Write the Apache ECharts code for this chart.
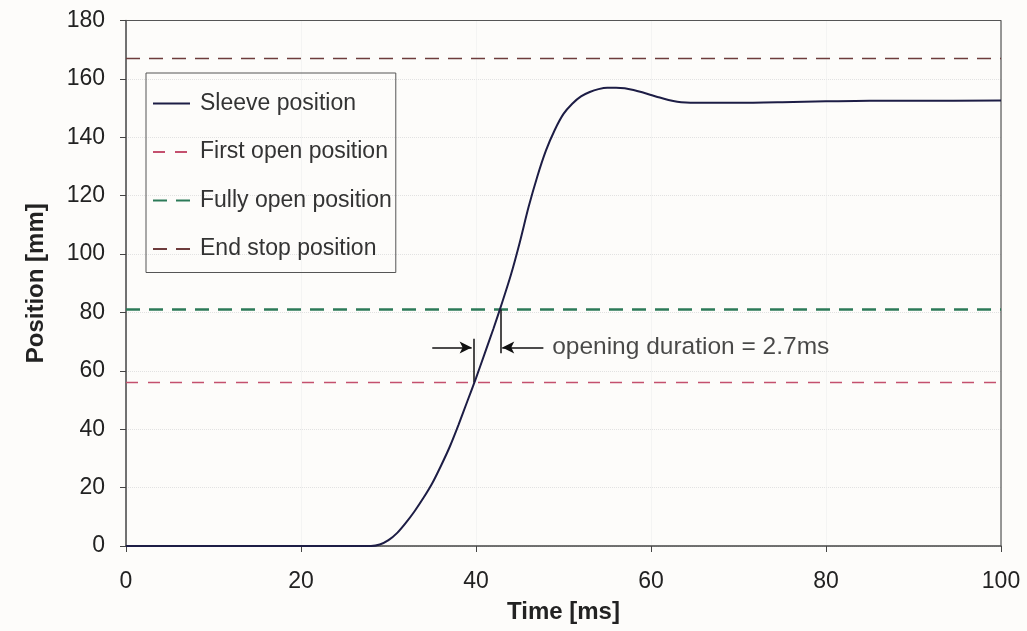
<!DOCTYPE html>
<html>
<head>
<meta charset="utf-8">
<script src="https://cdn.jsdelivr.net/npm/echarts@6/dist/echarts.min.js"></script>
<style>
html,body{margin:0;padding:0;background:#fdfcfa;}
#chart{width:1027px;height:631px;}
</style>
</head>
<body>
<div id="chart"></div>
<script>
// Sleeve position vs time
const timeMs = [0, 28, 29, 30, 31, 32, 33, 34, 35, 36, 37, 38, 39, 40, 41, 42, 43, 44, 45, 46, 47, 48, 49, 50, 51, 52, 53, 54, 55, 56, 57, 58, 59, 60, 61, 62, 63, 64, 65, 70, 75, 80, 85, 90, 100];
const sleevePos = [0, 0, 0.5, 2, 4.5, 8, 12, 16.5, 21.5, 27.5, 34, 41.5, 49.5, 57.5, 66, 74.5, 83.5, 93, 104, 116, 126.5, 135.5, 142.5, 148, 151.5, 154, 155.5, 156.5, 157, 157, 156.8, 156.2, 155.4, 154.5, 153.6, 152.8, 152.2, 151.9, 151.8, 151.8, 152, 152.3, 152.5, 152.5, 152.6];
const lineX = [0, 100];
const firstOpen = [56, 56];
const fullyOpen = [81, 81];
const endStop = [167, 167];
const openStartT = 39.7, openEndT = 42.8;
const arrowV = 68;
const leftArrowFrom = 35, rightArrowFrom = 47.7;
const annotText = 'opening duration = 2.7ms';
const xTicks = [0, 20, 40, 60, 80, 100];
const yTicks = [0, 20, 40, 60, 80, 100, 120, 140, 160, 180];

const font = '"Liberation Sans", Arial, sans-serif';
const chart = echarts.init(document.getElementById('chart'));
const pair = (xs, ys) => xs.map((x, i) => [x, ys[i]]);

chart.setOption({
  backgroundColor: '#fdfcfa',
  animation: false,
  grid: {left: 126, right: 26, top: 20.5, bottom: 85, show: false},
  legend: {
    orient: 'vertical', left: 146, top: 73,
    padding: [19, 4, 12, 6],
    itemWidth: 37, itemHeight: 14, itemGap: 25.5,
    borderColor: '#555', borderWidth: 1,
    itemStyle: {opacity: 0},
    textStyle: {fontFamily: font, fontSize: 23, color: '#333', padding: [0, 0, 0, 5]},
    data: ['Sleeve position', 'First open position', 'Fully open position', 'End stop position']
  },
  xAxis: {
    type: 'value', min: 0, max: 100, interval: 20,
    name: 'Time [ms]', nameLocation: 'middle', nameGap: 54,
    nameTextStyle: {fontFamily: font, fontSize: 24, fontWeight: 'bold', color: '#222'},
    axisLine: {show: true, onZero: false, lineStyle: {color: '#444', width: 1.5}},
    axisTick: {show: true, length: 6, lineStyle: {color: '#444'}},
    axisLabel: {margin: 24, fontFamily: font, fontSize: 23, color: '#222',
      formatter: v => xTicks.includes(v) ? String(v) : ''},
    splitLine: {show: true, lineStyle: {color: '#ebebeb', type: 'dotted', width: 1}}
  },
  yAxis: {
    type: 'value', min: 0, max: 180, interval: 20,
    name: 'Position [mm]', nameLocation: 'middle', nameGap: 78,
    nameTextStyle: {fontFamily: font, fontSize: 24, fontWeight: 'bold', color: '#222'},
    axisLine: {show: true, lineStyle: {color: '#444', width: 1.5}},
    axisTick: {show: true, length: 6, lineStyle: {color: '#444'}},
    axisLabel: {margin: 21, fontFamily: font, fontSize: 23, color: '#222',
      formatter: v => yTicks.includes(v) ? String(v) : ''},
    splitLine: {show: true, lineStyle: {color: '#e2e2e2', type: 'dotted', width: 1}}
  },
  series: [
    {
      name: 'Sleeve position', type: 'line', smooth: 0.25, symbol: 'none',
      data: pair(timeMs, sleevePos),
      lineStyle: {color: '#1d1d45', width: 2},
      itemStyle: {color: '#1d1d45'},
      z: 5
    },
    {
      name: 'First open position', type: 'line', symbol: 'none',
      data: pair(lineX, firstOpen),
      lineStyle: {color: '#c4506e', width: 1.5, type: [12, 10]},
      itemStyle: {color: '#c4506e'}
    },
    {
      name: 'Fully open position', type: 'line', symbol: 'none',
      data: pair(lineX, fullyOpen),
      lineStyle: {color: '#2c7a58', width: 2.5, type: [14, 9]},
      itemStyle: {color: '#2c7a58'}
    },
    {
      name: 'End stop position', type: 'line', symbol: 'none',
      data: pair(lineX, endStop),
      lineStyle: {color: '#6e3c3c', width: 1.5, type: [14, 9]},
      itemStyle: {color: '#6e3c3c'}
    },
    {
      name: 'annotation', type: 'scatter', symbolSize: 0,
      data: [[rightArrowFrom + 1, arrowV]],
      label: {show: true, position: 'right', distance: 0, formatter: annotText,
        fontFamily: font, fontSize: 24.5, color: '#1a1a1a'},
      silent: true,
      markLine: {
        silent: true, animation: false,
        symbol: ['none', 'arrow'], symbolSize: [9, 12],
        label: {show: false},
        lineStyle: {color: '#111', width: 1.5, type: 'solid'},
        data: [
          [{coord: [leftArrowFrom, arrowV]}, {coord: [openStartT - 0.2, arrowV]}],
          [{coord: [rightArrowFrom, arrowV]}, {coord: [openEndT + 0.2, arrowV]}],
          [{coord: [openStartT, firstOpen[0]], symbol: 'none'}, {coord: [openStartT, 71], symbol: 'none'}],
          [{coord: [openEndT, fullyOpen[0]], symbol: 'none'}, {coord: [openEndT, 66], symbol: 'none'}]
        ]
      }
    },
    {
      // top and right border of plot frame
      name: 'frame', type: 'line', symbol: 'none', silent: true,
      data: [[0, 180], [100, 180], [100, 0]],
      lineStyle: {color: '#555', width: 1.2},
      z: 1
    }
  ]
});
</script>
</body>
</html>
